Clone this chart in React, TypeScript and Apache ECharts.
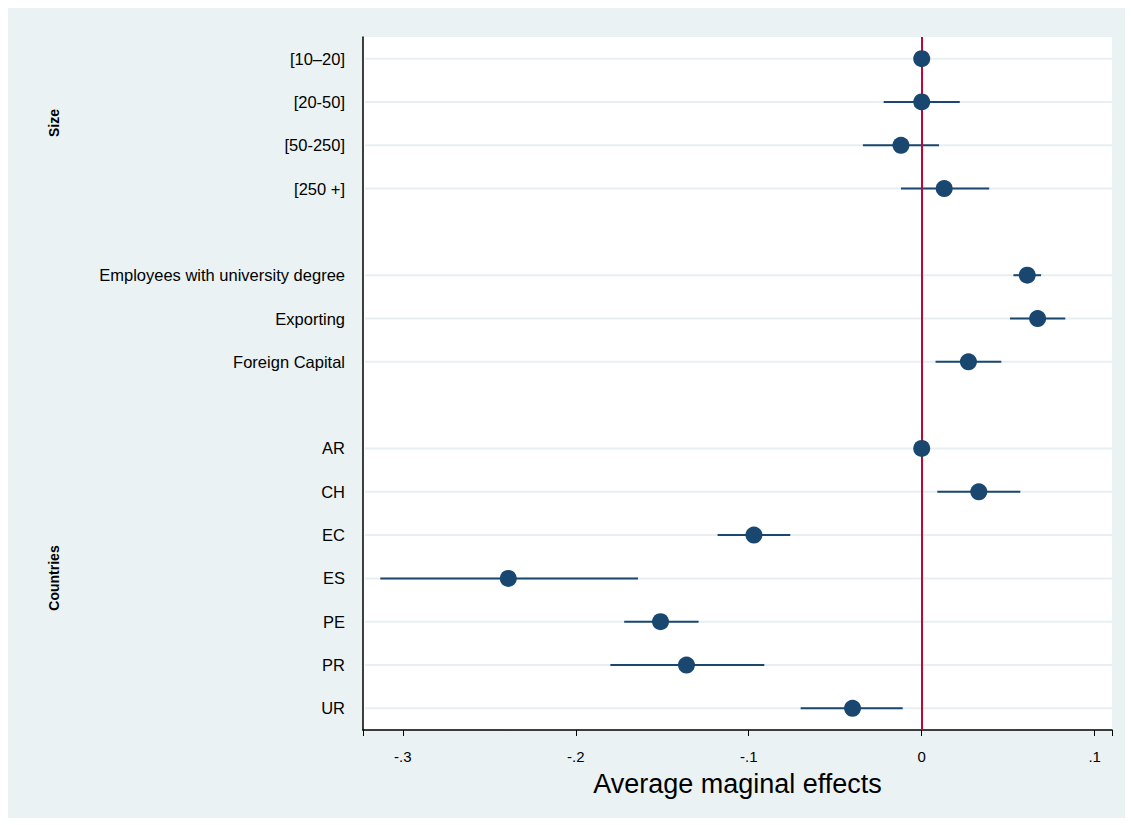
import React, { useEffect, useRef } from "react";
import * as echarts from "echarts";

const rows = [
  "[10–20]", "[20-50]", "[50-250]", "[250 +]", " ",
  "Employees with university degree", "Exporting", "Foreign Capital", "  ",
  "AR", "CH", "EC", "ES", "PE", "PR", "UR",
];
const estimates = [0, 0, -0.012, 0.013, null, 0.061, 0.067, 0.027, null, 0, 0.033, -0.097, -0.239, -0.151, -0.136, -0.04];
const lower = [0, -0.022, -0.034, -0.012, null, 0.053, 0.051, 0.008, null, 0, 0.009, -0.118, -0.313, -0.172, -0.18, -0.07];
const upper = [0, 0.022, 0.01, 0.039, null, 0.069, 0.083, 0.046, null, 0, 0.057, -0.076, -0.164, -0.129, -0.091, -0.011];

const navy = "#1a476f";
const font = "Liberation Sans, Arial, sans-serif";

// Stata-style tick labels: -.3, -.2, 0, .1
const fmt = (v: number) => {
  const r = Math.round(v * 10) / 10;
  if (Math.abs(v - r) > 1e-6) return "";
  if (Math.abs(r) < 1e-9) return "0";
  const s = String(Math.abs(r)).replace(/^0\./, ".");
  return r < 0 ? "-" + s : s;
};

const App: React.FC = () => {
  const ref = useRef<HTMLDivElement>(null);
  useEffect(() => {
    if (!ref.current) return;
    const chart = echarts.init(ref.current, undefined, { renderer: "svg" });
    const points: number[][] = [];
    const bars: number[][] = [];
    rows.forEach((r, i) => {
      if (estimates[i] !== null) points.push([estimates[i] as number, i]);
      if (lower[i] !== null) bars.push([lower[i] as number, i, upper[i] as number]);
    });
    chart.setOption({
      animation: false,
      backgroundColor: "#ffffff",
      textStyle: { fontFamily: font },
      graphic: [
        { type: "rect", z: -10, silent: true, shape: { x: 8, y: 8, width: 1117, height: 810 }, style: { fill: "#eaf2f3" } },
        { type: "text", x: 54, y: 123, rotation: Math.PI / 2, style: { text: "Size", font: `bold 14px ${font}`, fill: "#000", align: "center", verticalAlign: "middle" } },
        { type: "text", x: 54, y: 578, rotation: Math.PI / 2, style: { text: "Countries", font: `bold 14px ${font}`, fill: "#000", align: "center", verticalAlign: "middle" } },
      ],
      grid: { left: 363, right: 19, top: 37, bottom: 95, show: true, backgroundColor: "#ffffff", borderWidth: 0 },
      xAxis: {
        type: "value",
        min: -0.323,
        max: 0.11,
        splitNumber: 5,
        name: "Average maginal effects",
        nameLocation: "middle",
        nameGap: 40,
        nameTextStyle: { fontSize: 27, color: "#000" },
        axisLine: { show: true, onZero: false, lineStyle: { color: "#000", width: 1.5 } },
        axisTick: { show: true, length: 6, lineStyle: { color: "#000" } },
        axisLabel: { formatter: (v: number) => fmt(v), fontSize: 15, color: "#000", margin: 19 },
        splitLine: { show: false },
      },
      yAxis: {
        type: "category",
        data: rows,
        inverse: true,
        axisLine: { show: true, onZero: false, lineStyle: { color: "#000", width: 1.5 } },
        axisTick: { alignWithLabel: true, length: 6, lineStyle: { color: "#000" }, interval: 0 },
        axisLabel: { fontSize: 16.5, color: "#000", margin: 18, interval: 0 },
        splitLine: { show: false },
      },
      series: [
        {
          type: "custom",
          z: 3,
          data: bars,
          renderItem: (params: any, api: any) => {
            const cs = params.coordSys;
            const a = api.coord([api.value(0), api.value(1)]);
            const b = api.coord([api.value(2), api.value(1)]);
            return {
              type: "group",
              children: [
                { type: "line", z2: 0, shape: { x1: cs.x + 2, y1: a[1], x2: cs.x + cs.width, y2: a[1] }, style: { stroke: "#e8eff1", lineWidth: 2 } },
                { type: "line", z2: 1, shape: { x1: a[0], y1: a[1], x2: b[0], y2: b[1] }, style: { stroke: navy, lineWidth: 2 } },
              ],
            };
          },
        },
        {
          type: "scatter",
          z: 5,
          data: points,
          symbolSize: 17,
          itemStyle: { color: navy, opacity: 1 },
          markLine: {
            silent: true,
            symbol: "none",
            label: { show: false },
            lineStyle: { color: "#c10534", width: 2, type: "solid" },
            data: [{ xAxis: 0 }],
          },
        },
      ],
    });
    return () => chart.dispose();
  }, []);
  return <div ref={ref} style={{ position: "fixed", left: 0, top: 0, width: 1131, height: 825 }} />;
};

export default App;
